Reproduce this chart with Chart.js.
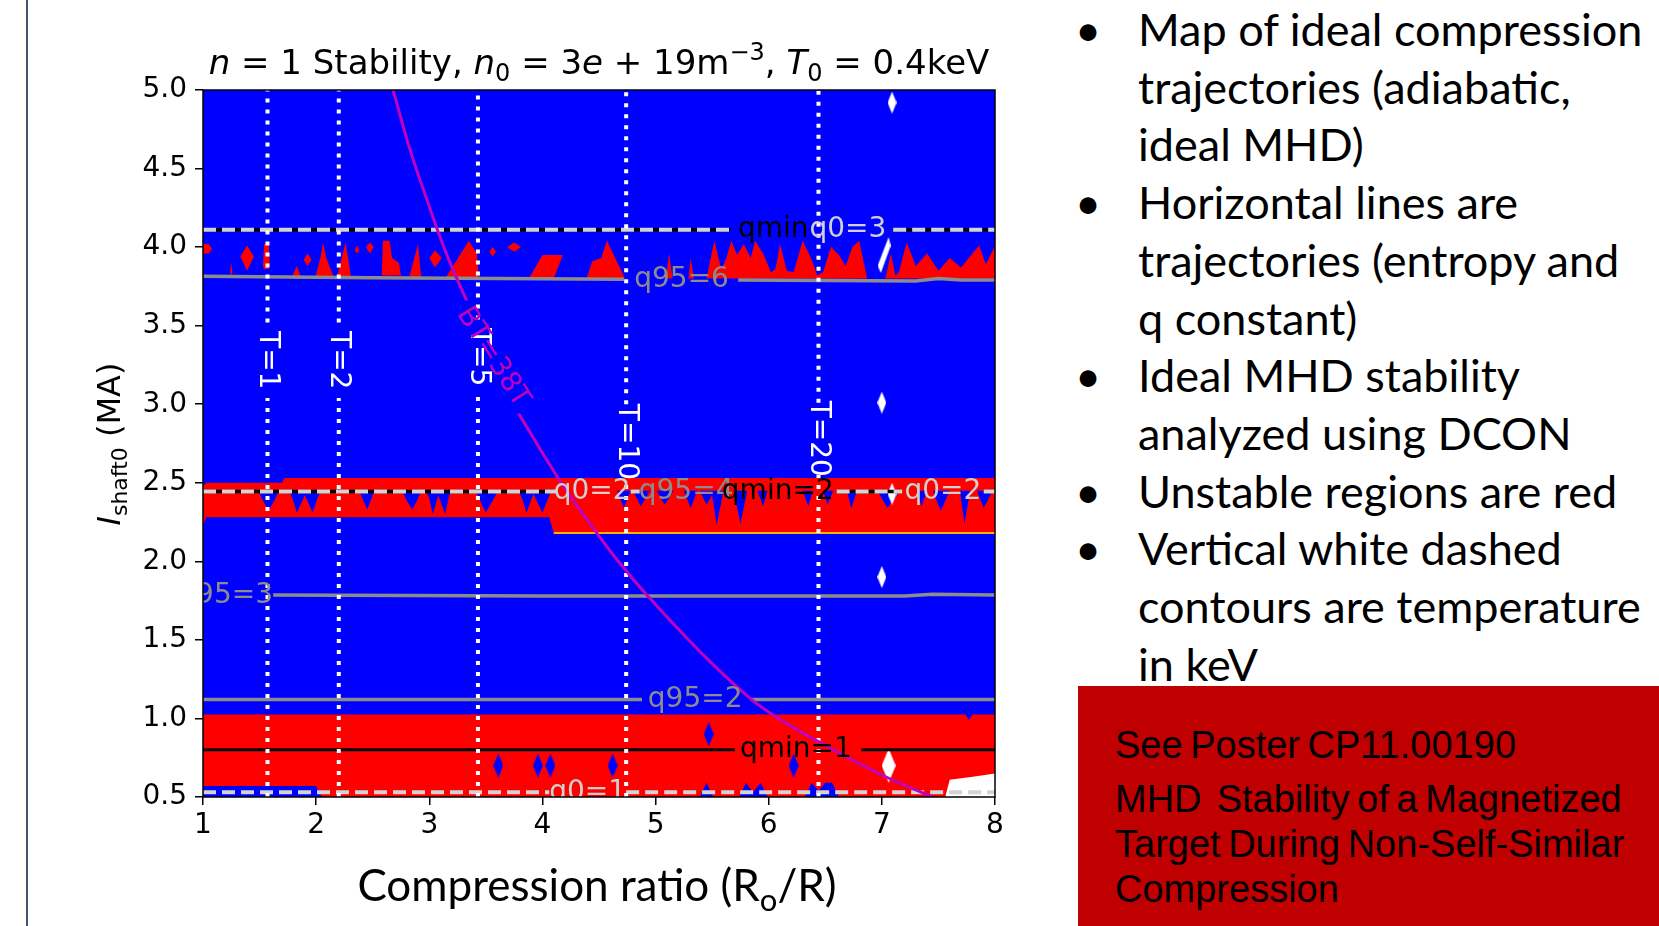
<!DOCTYPE html>
<html>
<head>
<meta charset="utf-8">
<script src="https://cdn.jsdelivr.net/npm/chart.js@4.4.0/dist/chart.umd.min.js"></script>
<style>
body { margin: 0; background: #fff; width: 1659px; height: 926px; overflow: hidden; position: relative; }
#c { position: absolute; left: 0; top: 0; }
#rule { position: absolute; left: 26px; top: 0; width: 2px; height: 926px; background: #44546A; }
#notes { position: absolute; left: 1087px; top: 1px; font-family: Lato, sans-serif; font-size: 45px; line-height: 57.7px; color: #000; }
#notes div { white-space: nowrap; padding-left: 51px; position: relative; }
#notes div.b::before { content: '\2022'; position: absolute; left: -12px; }
#poster { position: absolute; left: 1078px; top: 686px; width: 581px; height: 240px; background: #C00000;
  font-family: 'Liberation Sans Narrow', 'Liberation Sans', sans-serif; font-size: 38px; color: #000; word-spacing: -3px; }
#poster p { margin: 0; padding-left: 37px; line-height: 45px; white-space: nowrap; }
</style>
</head>
<body>
<div id="rule"></div>
<canvas id="c" width="1060" height="926"></canvas>
<div id="notes">
  <div class="b">Map of ideal compression</div>
  <div>trajectories (adiabatic,</div>
  <div>ideal MHD)</div>
  <div class="b">Horizontal lines are</div>
  <div>trajectories (entropy and</div>
  <div>q constant)</div>
  <div class="b">Ideal MHD stability</div>
  <div>analyzed using DCON</div>
  <div class="b">Unstable regions are red</div>
  <div class="b">Vertical white dashed</div>
  <div>contours are temperature</div>
  <div>in keV</div>
</div>
<div id="poster">
  <p style="padding-top:37px">See Poster CP11.00190</p>
  <p style="margin-top:9px">MHD &thinsp;Stability of a Magnetized</p>
  <p>Target During Non-Self-Similar</p>
  <p>Compression</p>
</div>
<script>
// axes
var xTickVals = [1, 2, 3, 4, 5, 6, 7, 8];
var yTickVals = [0.5, 1.0, 1.5, 2.0, 2.5, 3.0, 3.5, 4.0, 4.5, 5.0];
var yTickText = ['0.5', '1.0', '1.5', '2.0', '2.5', '3.0', '3.5', '4.0', '4.5', '5.0'];

// unstable (red) regions: [x, lower, upper]
var band4 = [
  [1.00,3.96,4.02],[1.05,3.96,4.02],[1.08,3.99,3.99],
  [1.24,3.84,3.84],[1.25,3.82,3.90],[1.26,3.84,3.84],
  [1.33,3.94,3.94],[1.39,3.85,4.01],[1.45,3.94,3.94],
  [1.53,3.88,3.88],[1.54,3.86,4.02],[1.58,3.86,4.02],[1.59,3.90,3.90],
  [1.78,3.80,3.80],[1.83,3.80,3.88],[1.87,3.80,3.80],
  [1.89,3.92,3.92],[1.925,3.88,3.96],[1.96,3.92,3.92],
  [1.99,3.80,3.80],[2.04,3.80,3.94],[2.06,3.80,4.03],[2.09,3.80,3.93],[2.16,3.80,3.80],
  [2.18,3.80,3.80],[2.26,3.80,4.03],[2.31,3.80,3.80],
  [2.34,3.98,3.98],[2.36,3.96,4.01],[2.38,3.98,3.98],
  [2.44,4.00,4.00],[2.475,3.96,4.03],[2.51,4.00,4.00],
  [2.58,3.82,3.82],[2.59,3.82,4.04],[2.65,3.82,4.04],[2.67,3.82,3.93],[2.73,3.82,3.90],[2.75,3.82,3.82],
  [2.82,3.80,3.80],[2.90,3.80,4.02],[2.93,3.80,3.80],
  [3.00,3.93,3.93],[3.05,3.87,3.98],[3.11,3.93,3.93],
  [3.14,3.80,3.80],[3.35,3.80,4.04],[3.42,3.80,3.96],[3.44,3.80,3.80],
  [3.53,3.97,3.97],[3.56,3.94,4.00],[3.59,3.97,3.97],
  [3.69,4.00,4.00],[3.75,3.97,4.03],[3.81,4.00,4.00],
  [3.88,3.80,3.80],[4.00,3.80,3.95],[4.10,3.80,3.95],[4.18,3.95,3.95],
  [4.39,3.80,3.80],[4.44,3.80,3.91],[4.52,3.80,3.93],[4.57,3.80,4.04],[4.73,3.80,3.80],
  [5.09,3.80,3.80],[5.12,3.80,3.96],[5.15,3.80,3.80],
  [5.29,3.80,3.80],[5.31,3.80,3.93],[5.34,3.80,3.80],
  [5.45,3.80,3.80],[5.52,3.80,4.04],[5.58,3.80,3.86],[5.62,3.80,3.92],[5.67,3.80,4.04],[5.72,3.80,3.95],
  [5.78,3.80,4.02],[5.84,3.80,3.93],[5.88,3.80,4.04],[5.95,3.80,3.96],[6.02,3.80,3.84],[6.06,3.80,3.86],
  [6.10,3.80,4.02],[6.16,3.80,3.85],[6.22,3.80,3.84],[6.30,3.80,4.04],[6.38,3.80,3.92],[6.43,3.80,3.82],
  [6.48,3.80,3.84],[6.55,3.80,4.00],[6.62,3.80,3.95],[6.68,3.80,3.88],[6.74,3.80,4.00],[6.80,3.80,4.04],[6.87,3.80,3.80],
  [7.03,3.80,3.80],[7.08,3.80,3.96],[7.12,3.80,3.82],
  [7.15,3.80,3.84],[7.22,3.80,4.03],[7.30,3.80,3.88],[7.40,3.80,3.96],[7.50,3.80,3.85],[7.60,3.80,3.93],
  [7.70,3.80,3.87],[7.80,3.80,3.96],[7.86,3.80,4.01],[7.92,3.80,3.89],[8.00,3.80,4.01]
];
var band25 = [[1.00,2.23,2.48],[1.03,2.28,2.50],[1.70,2.28,2.50],[1.72,2.28,2.53],[4.06,2.28,2.53],[4.10,2.18,2.53],[8.00,2.18,2.53]];
var band10 = [[1.00,0.45,1.025],[7.74,0.45,1.025],[7.77,0.45,0.99],[7.80,0.45,1.025],[8.00,0.45,1.025]];

// stable (blue) notches cut into the red bands
var notch25 = [
  [1.00,2.45],[1.49,2.45],[1.52,2.40],[1.58,2.32],[1.64,2.40],[1.67,2.45],
  [1.76,2.45],[1.79,2.40],[1.83,2.31],[1.90,2.42],[1.97,2.31],[2.01,2.40],[2.04,2.45],
  [2.38,2.45],[2.41,2.40],[2.45,2.33],[2.49,2.40],[2.51,2.45],
  [2.76,2.45],[2.79,2.40],[2.85,2.33],[2.90,2.40],[2.93,2.45],
  [2.97,2.45],[3.00,2.40],[3.03,2.30],[3.08,2.42],[3.14,2.30],[3.17,2.40],[3.19,2.45],
  [3.41,2.45],[3.44,2.40],[3.50,2.31],[3.57,2.40],[3.61,2.45],
  [3.79,2.45],[3.82,2.40],[3.86,2.31],[3.92,2.43],[4.00,2.31],[4.05,2.40],[4.08,2.45],
  [4.66,2.45],[4.72,2.34],[4.78,2.45],
  [4.80,2.45],[4.87,2.35],[4.95,2.45],
  [5.01,2.45],[5.08,2.36],[5.16,2.45],
  [5.25,2.45],[5.31,2.34],[5.37,2.45],
  [5.39,2.45],[5.45,2.36],[5.50,2.42],[5.54,2.23],[5.60,2.45],
  [5.69,2.45],[5.75,2.24],[5.81,2.45],
  [5.90,2.45],[5.95,2.35],[5.99,2.45],
  [6.30,2.45],[6.35,2.35],[6.39,2.45],
  [6.48,2.45],[6.52,2.36],[6.57,2.45],
  [6.69,2.45],[6.73,2.34],[6.78,2.45],
  [6.96,2.45],[7.05,2.34],[7.16,2.45],
  [7.31,2.45],[7.35,2.35],[7.40,2.45],
  [7.45,2.45],[7.52,2.32],[7.60,2.45],
  [7.69,2.45],[7.73,2.24],[7.78,2.45],
  [7.84,2.45],[7.90,2.34],[7.98,2.45],[8.00,2.45]
];
var bottomBlue = [[1.00,0.57],[2.00,0.57],[2.05,0.50],[5.39,0.50],[5.45,0.59],[5.51,0.50],[5.74,0.50],[5.80,0.59],[5.86,0.53],
  [5.93,0.59],[5.99,0.50],[6.32,0.50],[6.38,0.59],[6.44,0.54],[6.50,0.59],[6.56,0.59],[6.62,0.50],[8.00,0.50]];
var whiteCorner = [[7.56,0.50],[7.60,0.61],[7.82,0.63],[8.00,0.65]];
var edge218 = [[4.10,2.18],[8.00,2.18]];

// isolated points
var blueDiamonds = [[3.61,0.70],[3.96,0.70],[4.07,0.70],[4.62,0.70],[5.47,0.90],[6.22,0.70]];
var whiteDiamonds = [[7.09,4.92],[7.00,3.01],[7.00,1.90],[7.09,2.43]];
var bigWhite = [[7.06,0.70]];
var whiteSpike = [[7.02,3.95]];

// contour lines (null = gap for the label)
var q3Line = [[1,4.11],[5.66,4.11],null,[7.10,4.11],[8,4.11]];
var q95_6Line = [[1,3.815],[2.5,3.805],[4.72,3.795],null,[5.73,3.79],[7.3,3.785],[7.5,3.80],[7.7,3.79],[8,3.79]];
var q2Line = [[1,2.445],[4.12,2.445],null,[4.78,2.445],[4.86,2.445],null,[6.60,2.445],[7.18,2.445],null,[7.90,2.445],[8,2.445]];
var q95_3Line = [[1.62,1.785],[4,1.78],[7.2,1.78],[7.45,1.79],[8,1.785]];
var q95_2Line = [[1,1.12],[4.88,1.12],null,[5.84,1.12],[8,1.12]];
var qmin1Line = [[1,0.80],[5.70,0.80],null,[6.82,0.80],[8,0.80]];
var q01Line = [[1,0.53],[4.06,0.53],null,[4.74,0.53],[8,0.53]];

// temperature contours
var tempX = [1.57, 2.20, 3.43, 4.74, 6.44];
var tempText = ['T=1', 'T=2', 'T=5', 'T=10', 'T=20'];
var tempLabelY = [3.28, 3.28, 3.30, 2.76, 2.78];
var tempGapLo = [3.04, 3.04, 3.06, 2.52, 2.55];
var tempGapHi = [3.52, 3.52, 3.54, 3.00, 3.01];

// BT = 38T curve
var btCurve = [[2.68,5.00],[2.83,4.62],[2.98,4.30],[3.15,3.96],[3.33,3.66],null,[3.79,2.94],[4.13,2.54],[4.40,2.26],
  [4.66,2.01],[4.93,1.78],[5.40,1.42],[5.85,1.12],[6.20,0.95],[6.55,0.81],[7.00,0.64],[7.45,0.50]];

// contour labels
var lblText = ['qmin', 'q0=3', 'q95=6', 'q0=2', 'q95=4', 'qmin=2', 'q0=2', 'q95=3', 'q95=2', 'qmin=1', 'q0=1'];
var lblX = [6.04, 6.70, 5.23, 4.44, 5.27, 6.08, 7.54, 1.20, 5.35, 6.24, 4.40];
var lblY = [4.11, 4.11, 3.79, 2.44, 2.44, 2.44, 2.44, 1.78, 1.12, 0.80, 0.53];
var lblKind = ['qmin', 'q0', 'q95', 'q0', 'q95', 'qmin', 'q0', 'q95', 'q95', 'qmin', 'q0'];

var BLUE = '#0000FF', RED = '#FF0000';
var kindColor = { qmin: '#000000', q0: '#CFCFCF', q95: '#8C8C8C' };

function pts(a) {
  var out = [];
  a.forEach(function (p, i) {
    if (p) out.push({ x: p[0], y: p[1] });
    else out.push({ x: a[i - 1][0], y: null });
  });
  return out;
}

var datasets = [];
function addBand(tri, color) {
  datasets.push({ data: tri.map(function (t) { return { x: t[0], y: t[2] }; }), fill: '+1', backgroundColor: color, borderWidth: 0, pointRadius: 0, tension: 0 });
  datasets.push({ data: tri.map(function (t) { return { x: t[0], y: t[1] }; }), fill: false, borderWidth: 0, pointRadius: 0, tension: 0 });
}
function addFillTo(a, value, color) {
  datasets.push({ data: pts(a), fill: { value: value }, backgroundColor: color, borderWidth: 0, pointRadius: 0, tension: 0 });
}
function addLine(a, color, width, dash, tension) {
  datasets.push({ data: pts(a), fill: false, borderColor: color, borderWidth: width, borderDash: dash || [], pointRadius: 0, tension: tension || 0, borderCapStyle: 'butt' });
}
function shape(w, h, color, slant) {
  var c = document.createElement('canvas');
  c.width = w; c.height = h;
  var g = c.getContext('2d');
  g.fillStyle = color;
  g.beginPath();
  if (slant) {
    g.moveTo(w * 0.85, 0); g.lineTo(w, h * 0.25); g.lineTo(w * 0.25, h); g.lineTo(0, h * 0.8);
  } else {
    g.moveTo(w / 2, 0); g.lineTo(w, h / 2); g.lineTo(w / 2, h); g.lineTo(0, h / 2);
  }
  g.closePath(); g.fill();
  return c;
}
function addPoints(a, img) {
  datasets.push({ data: pts(a), showLine: false, pointStyle: img, pointRadius: 6, borderWidth: 0 });
}

addBand(band10, RED);
addBand(band25, RED);
addBand(band4, RED);
addFillTo(notch25, 2.45, BLUE);
addFillTo(bottomBlue, 0.45, BLUE);
addFillTo(whiteCorner, 0.45, '#FFFFFF');
addLine(edge218, '#FFB300', 2);
addPoints(blueDiamonds, shape(10, 24, BLUE));
addPoints(whiteDiamonds, shape(9, 22, '#FFFFFF'));
addPoints(bigWhite, shape(14, 34, '#FFFFFF'));
addPoints(whiteSpike, shape(13, 36, '#FFFFFF', true));
addLine(q95_6Line, kindColor.q95, 3.5);
addLine(q95_3Line, kindColor.q95, 3.5);
addLine(q95_2Line, kindColor.q95, 3.5);
addLine(q3Line, '#000000', 3.5);
addLine(q2Line, '#000000', 3.5);
addLine(qmin1Line, '#000000', 3);
addLine(q3Line, '#D3D3D3', 4, [13, 6]);
addLine(q2Line, '#D3D3D3', 4, [13, 6]);
addLine(q01Line, '#D3D3D3', 4, [13, 6]);
tempX.forEach(function (x, i) {
  addLine([[x, 0.5], [x, tempGapLo[i]], null, [x, tempGapHi[i]], [x, 5.0]], '#FFFFFF', 4, [4, 7]);
});
addLine(btCurve, '#BF00BF', 3, [], 0.4);
datasets.forEach(function (d, i) { d.order = -i; });

function drawRich(ctx, parts, x, y, size, family, rot) {
  ctx.save();
  ctx.translate(x, y);
  ctx.rotate(rot || 0);
  function fontFor(p) {
    var small = p[1] === 'sub' || p[1] === 'sup';
    return (p[1] === 'i' ? 'italic ' : '') + Math.round(small ? size * 0.7 : size) + 'px ' + family;
  }
  var w = 0;
  parts.forEach(function (p) { ctx.font = fontFor(p); w += ctx.measureText(p[0]).width; });
  var cx = -w / 2;
  ctx.textAlign = 'left';
  ctx.textBaseline = 'alphabetic';
  parts.forEach(function (p) {
    ctx.font = fontFor(p);
    var dy = p[1] === 'sub' ? size * 0.22 : (p[1] === 'sup' ? -size * 0.42 : 0);
    ctx.fillText(p[0], cx, dy);
    cx += ctx.measureText(p[0]).width;
  });
  ctx.restore();
}

var plotBg = {
  id: 'plotBg',
  beforeDatasetsDraw: function (chart) {
    var a = chart.chartArea, ctx = chart.ctx;
    ctx.save();
    ctx.fillStyle = BLUE;
    ctx.fillRect(a.left, a.top, a.right - a.left, a.bottom - a.top);
    ctx.restore();
  }
};

var contourLabels = {
  id: 'contourLabels',
  afterDatasetsDraw: function (chart) {
    var a = chart.chartArea, ctx = chart.ctx, xs = chart.scales.x, ys = chart.scales.y;
    ctx.save();
    ctx.beginPath();
    ctx.rect(a.left, a.top, a.right - a.left, a.bottom - a.top);
    ctx.clip();
    ctx.textAlign = 'center';
    ctx.textBaseline = 'middle';
    ctx.font = '28px "DejaVu Sans"';
    lblText.forEach(function (t, i) {
      ctx.fillStyle = kindColor[lblKind[i]];
      ctx.fillText(t, xs.getPixelForValue(lblX[i]), ys.getPixelForValue(lblY[i]));
    });
    ctx.fillStyle = '#FFFFFF';
    tempText.forEach(function (t, i) {
      ctx.save();
      ctx.translate(xs.getPixelForValue(tempX[i]), ys.getPixelForValue(tempLabelY[i]));
      ctx.rotate(Math.PI / 2);
      ctx.fillText(t, 0, 0);
      ctx.restore();
    });
    ctx.save();
    ctx.translate(xs.getPixelForValue(3.56), ys.getPixelForValue(3.30));
    ctx.rotate(57.7 * Math.PI / 180);
    ctx.fillStyle = '#BF00BF';
    ctx.fillText('BT=38T', 0, 0);
    ctx.restore();
    ctx.restore();
  },
  afterDraw: function (chart) {
    var a = chart.chartArea, ctx = chart.ctx;
    ctx.save();
    ctx.strokeStyle = '#000';
    ctx.lineWidth = 1.5;
    ctx.strokeRect(a.left, a.top, a.right - a.left, a.bottom - a.top);
    ctx.fillStyle = '#000';
    var cx = (a.left + a.right) / 2;
    drawRich(ctx, [['n', 'i'], [' = 1 Stability, ', ''], ['n', 'i'], ['0', 'sub'], [' = 3', ''], ['e', 'i'], [' + 19m', ''],
      ['\u22123', 'sup'], [', ', ''], ['T', 'i'], ['0', 'sub'], [' = 0.4keV', '']], cx, 74, 34, '"DejaVu Sans"');
    drawRich(ctx, [['I', 'i'], ['shaft0', 'sub'], [' (MA)', '']], 120, 444, 32, '"DejaVu Sans"', -Math.PI / 2);
    drawRich(ctx, [['Compression ratio (R', ''], ['o', 'sub'], ['/R)', '']], cx - 2, 901, 44, 'Lato');
    ctx.restore();
  }
};

new Chart(document.getElementById('c'), {
  type: 'line',
  data: { datasets: datasets },
  plugins: [plotBg, contourLabels],
  options: {
    responsive: false,
    devicePixelRatio: 1,
    animation: false,
    events: [],
    layout: { padding: { left: 0, right: 65, top: 90, bottom: 0 } },
    plugins: { legend: { display: false }, tooltip: { enabled: false }, title: { display: false } },
    scales: {
      x: {
        type: 'linear', min: 1, max: 8,
        afterFit: function (s) { s.height = 129; },
        afterBuildTicks: function (s) { s.ticks = xTickVals.map(function (v) { return { value: v }; }); },
        ticks: { color: '#000', font: { family: 'DejaVu Sans', size: 28 }, padding: 4, maxRotation: 0,
          callback: function (v) { return String(v); } },
        grid: { drawOnChartArea: false, drawTicks: true, tickLength: 8, color: '#000', lineWidth: 1.5 },
        border: { display: false }
      },
      y: {
        type: 'linear', min: 0.5, max: 5.0,
        afterFit: function (s) { s.width = 203; },
        afterBuildTicks: function (s) { s.ticks = yTickVals.map(function (v) { return { value: v }; }); },
        ticks: { color: '#000', font: { family: 'DejaVu Sans', size: 28 }, padding: 8,
          callback: function (v) { return yTickText[yTickVals.indexOf(v)]; } },
        grid: { drawOnChartArea: false, drawTicks: true, tickLength: 8, color: '#000', lineWidth: 1.5 },
        border: { display: false }
      }
    }
  }
});
</script>
</body>
</html>
